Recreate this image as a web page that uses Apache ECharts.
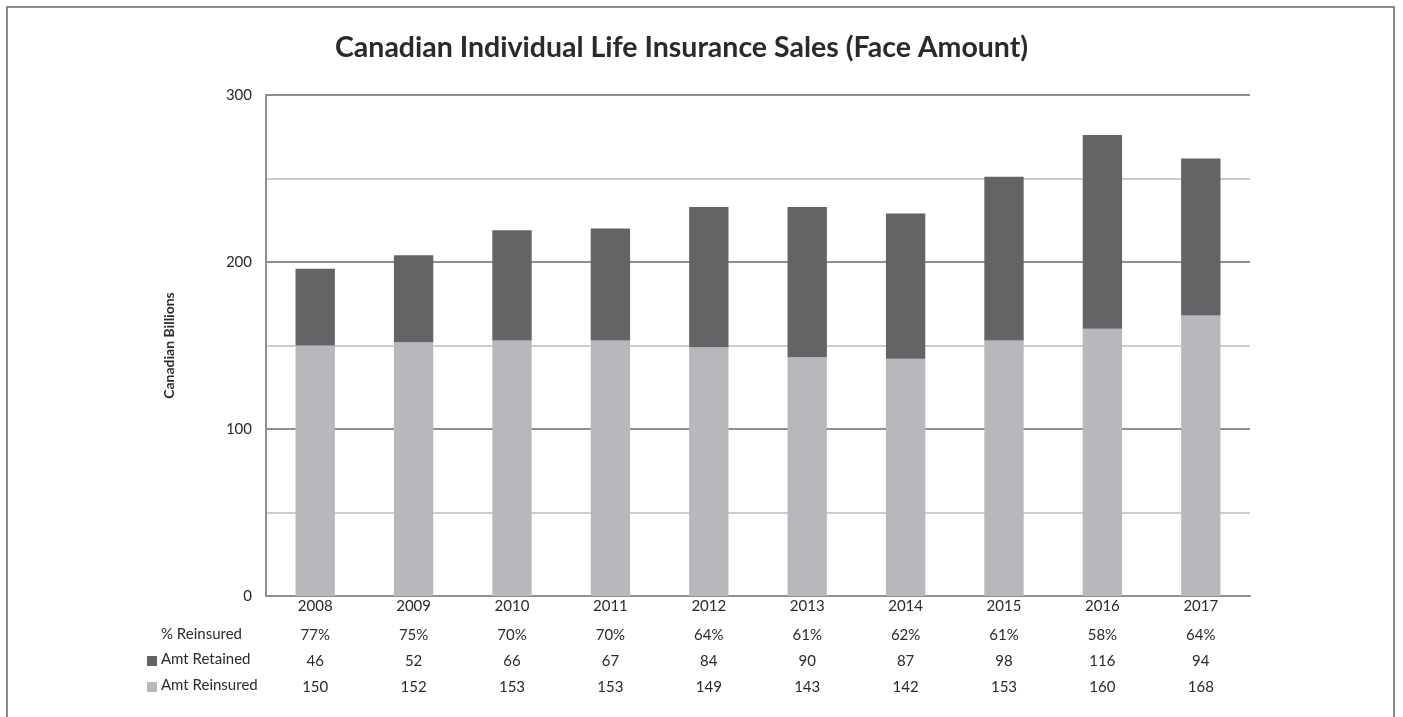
<!DOCTYPE html>
<html lang="en">
<head>
    <meta charset="UTF-8">
    <title>Canadian Individual Life Insurance Sales</title>
    <script src="https://cdn.jsdelivr.net/npm/echarts@6/dist/echarts.min.js"></script>
    <style>
        html, body { margin: 0; padding: 0; background: #fff; }
        #main { width: 1403px; height: 717px; }
    </style>
</head>
<body>
    <div id="main"></div>
    <script>
        var years = ['2008', '2009', '2010', '2011', '2012', '2013', '2014', '2015', '2016', '2017'];
        var amtReinsured = [150, 152, 153, 153, 149, 143, 142, 153, 160, 168];
        var amtRetained = [46, 52, 66, 67, 84, 90, 87, 98, 116, 94];
        var pctReinsured = ['77%', '75%', '70%', '70%', '64%', '61%', '62%', '61%', '58%', '64%'];
        var yTicks = [0, 100, 200, 300];

        var darkGrey = '#636466';
        var lightGrey = '#b7b8bb';
        var textColor = '#2a2a2a';
        var font = 'Lato, "Open Sans", sans-serif';

        var myChart = echarts.init(document.getElementById('main'));

        // one hidden-line category axis per table row
        function rowAxis(data, offset) {
            return {
                type: 'category',
                gridIndex: 0,
                position: 'bottom',
                offset: offset,
                data: data,
                axisLine: { show: false },
                axisTick: { show: false },
                axisLabel: { color: textColor, fontSize: 15, fontFamily: font, margin: 3 }
            };
        }

        var option = {
            backgroundColor: '#fff',
            animation: false,
            title: {
                text: 'Canadian Individual Life Insurance Sales (Face Amount)',
                left: 330,
                top: 28,
                textStyle: { color: '#2a2a2a', fontSize: 28.5, fontWeight: 'bold', fontFamily: font }
            },
            grid: {
                left: 266,
                right: 153,
                top: 95,
                bottom: 121
            },
            xAxis: [
                {
                    type: 'category',
                    data: years,
                    axisLine: { lineStyle: { color: '#8f8f8f', width: 2 } },
                    axisTick: { show: false },
                    axisLabel: { color: textColor, fontSize: 15, fontFamily: font, margin: 3 }
                },
                rowAxis(pctReinsured, 29),
                rowAxis(amtRetained, 55),
                rowAxis(amtReinsured, 81)
            ],
            yAxis: {
                type: 'value',
                min: 0,
                max: 300,
                interval: 50,
                name: 'Canadian Billions',
                nameLocation: 'middle',
                nameGap: 90,
                nameTextStyle: { color: textColor, fontSize: 14, fontWeight: 'bold', fontFamily: font },
                axisLine: { show: true, lineStyle: { color: '#8f8f8f', width: 2 } },
                axisTick: { show: false },
                axisLabel: {
                    color: textColor,
                    fontSize: 15,
                    fontFamily: font,
                    margin: 14,
                    formatter: function (v) {
                        return yTicks.indexOf(v) >= 0 ? String(v) : '';
                    }
                },
                splitLine: {
                    lineStyle: { color: ['#8f8f8f', '#cdcdcd'], width: 2 }
                }
            },
            series: [
                {
                    name: 'Amt Reinsured',
                    type: 'bar',
                    stack: 'total',
                    barWidth: '40%',
                    itemStyle: { color: lightGrey },
                    data: amtReinsured
                },
                {
                    name: 'Amt Retained',
                    type: 'bar',
                    stack: 'total',
                    barWidth: '40%',
                    itemStyle: { color: darkGrey },
                    data: amtRetained
                }
            ],
            graphic: [
                // outer frame
                {
                    type: 'rect',
                    shape: { x: 7, y: 7, width: 1387, height: 720 },
                    style: { fill: 'none', stroke: '#666', lineWidth: 1.5 },
                    silent: true
                },
                // table row headers
                {
                    type: 'text', left: 161, top: 627,
                    style: { text: '% Reinsured', fill: textColor, font: '15px ' + font }
                },
                {
                    type: 'rect', shape: { x: 147, y: 656, width: 10, height: 10 },
                    style: { fill: darkGrey }
                },
                {
                    type: 'text', left: 161, top: 652,
                    style: { text: 'Amt Retained', fill: textColor, font: '15px ' + font }
                },
                {
                    type: 'rect', shape: { x: 147, y: 682, width: 10, height: 10 },
                    style: { fill: lightGrey }
                },
                {
                    type: 'text', left: 161, top: 678,
                    style: { text: 'Amt Reinsured', fill: textColor, font: '15px ' + font }
                }
            ]
        };

        myChart.setOption(option);
        window.addEventListener('resize', function () {
            myChart.resize();
        });
    </script>
</body>
</html>
